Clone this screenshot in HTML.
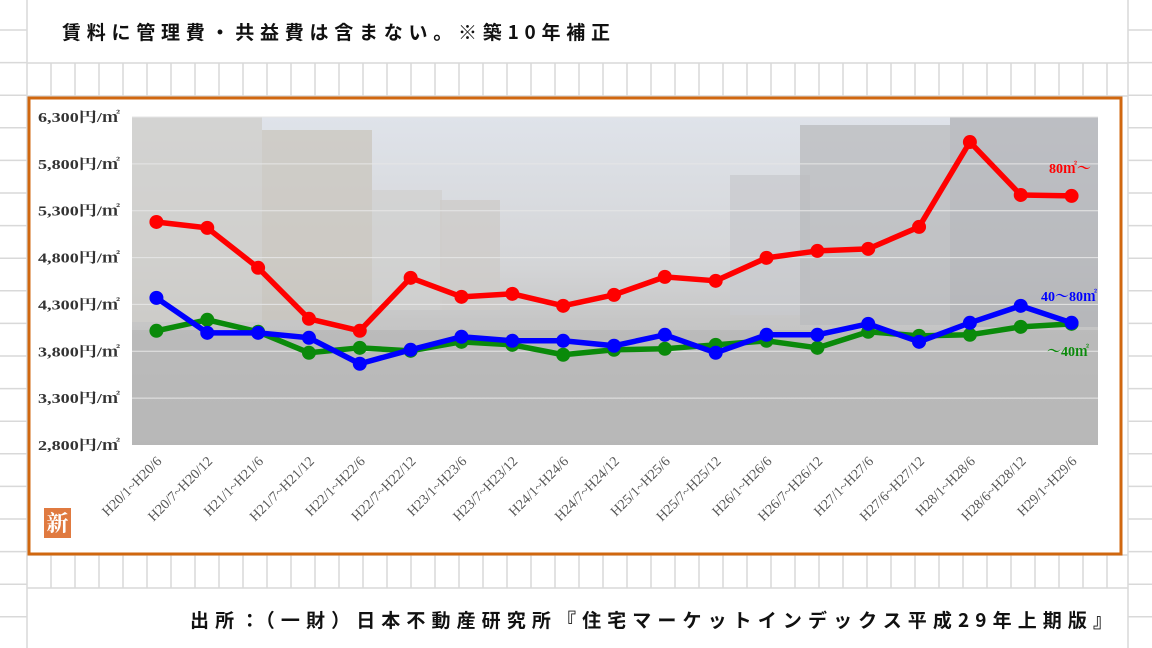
<!DOCTYPE html>
<html><head><meta charset="utf-8">
<style>
html,body{margin:0;padding:0;background:#fff;}
body{width:1152px;height:648px;overflow:hidden;position:relative;font-family:"Liberation Serif","Noto Serif CJK SC","Noto Sans CJK JP",serif;}
svg{position:absolute;left:0;top:0;}
</style></head>
<body>
<svg id="chart" width="1152" height="648" viewBox="0 0 1152 648" xmlns="http://www.w3.org/2000/svg">
<defs>
<linearGradient id="photo" x1="0" y1="0" x2="0" y2="1">
<stop offset="0" stop-color="#dfe3ea"/>
<stop offset="0.45" stop-color="#d4d5d7"/>
<stop offset="0.62" stop-color="#c6c6c6"/>
<stop offset="1" stop-color="#b9b9b9"/>
</linearGradient>
</defs>
<g id="sheet-grid" stroke="#d9d9d9" stroke-width="1.5"></g>
<text x="62" y="39" font-family="'Noto Sans CJK JP',sans-serif" font-size="19" font-weight="bold" textLength="548" lengthAdjust="spacing" fill="#111">賃料に管理費・共益費は含まない。※築10年補正</text>
<rect x="29" y="98" width="1092" height="456" fill="#fff" stroke="#d0670f" stroke-width="3"/>
<g id="plot"></g>
<text x="190" y="627" font-family="'Noto Sans CJK JP',sans-serif" font-size="19" font-weight="bold" textLength="922" lengthAdjust="spacing" fill="#111">出所：（一財）日本不動産研究所『住宅マーケットインデックス平成29年上期版』</text>
</svg>
<script>
const categories=["H20/1~H20/6","H20/7~H20/12","H21/1~H21/6","H21/7~H21/12","H22/1~H22/6","H22/7~H22/12","H23/1~H23/6","H23/7~H23/12","H24/1~H24/6","H24/7~H24/12","H25/1~H25/6","H25/7~H25/12","H26/1~H26/6","H26/7~H26/12","H27/1~H27/6","H27/6~H27/12","H28/1~H28/6","H28/6~H28/12","H29/1~H29/6"];
const large=[5180,5117,4691,4147,4019,4584,4381,4413,4285,4402,4594,4552,4797,4871,4893,5127,6033,5468,5458];
const medium=[4370,3997,3997,3944,3667,3816,3955,3912,3912,3859,3976,3784,3976,3976,4093,3901,4104,4285,4104];
const small=[4019,4136,4008,3784,3837,3805,3901,3869,3763,3816,3827,3869,3912,3837,4008,3965,3976,4061,4093];
const yTicks=[2800,3300,3800,4300,4800,5300,5800,6300];
const yTickLabels=["2,800円/㎡","3,300円/㎡","3,800円/㎡","4,300円/㎡","4,800円/㎡","5,300円/㎡","5,800円/㎡","6,300円/㎡"];
const seriesNames=["80㎡～","40～80㎡","～40㎡"];

const NS="http://www.w3.org/2000/svg";
const PX0=132,PX1=1098,PY0=117,PY1=445,YMIN=2800,YMAX=6300;
const step=(PX1-PX0)/categories.length;
function xs(i){return PX0+step*(i+0.5)-1;}
function ys(v){return PY1-(v-YMIN)/(YMAX-YMIN)*(PY1-PY0);}
function mk(tag,attrs,parent){const e=document.createElementNS(NS,tag);for(const k in attrs)e.setAttribute(k,attrs[k]);parent.appendChild(e);return e;}

const g=document.getElementById('sheet-grid');
for(let y=30;y<648;y+=32.6){
  const l=mk('line',{x1:0,x2:27,y1:y,y2:y},g);
  
  
  const r=mk('line',{x1:1128,x2:1152,y1:y,y2:y},g);
  
  
}
[[27,0,27,648],[1128,0,1128,648],[27,63,1128,63],[27,96,1128,96],[27,555,1128,555],[27,588,1128,588]].forEach(a=>{
  const l=mk('line',{x1:a[0],y1:a[1],x2:a[2],y2:a[3]},g);
  
  
});
for(let x=51;x<1128;x+=24){
  [[63,96],[555,588]].forEach(r=>{
    const l=mk('line',{x1:x,x2:x,y1:r[0],y2:r[1]},g);
    
    
  });
}

const P=document.getElementById('plot');
const bg=mk('rect',{x:PX0,y:PY0,width:PX1-PX0,height:PY1-PY0,fill:'url(#photo)'},P);


const bld=[[132,117,130,205,'#cfcdca'],[262,130,110,190,'#c9c5bd'],[372,190,70,120,'#d0d0cf'],[440,200,60,110,'#cdcbc8'],[730,175,80,140,'#c8cacd'],[800,125,150,200,'#b9bbbe'],[950,117,148,210,'#b0b2b5'],[132,330,966,115,'#b7b7b7']];
bld.forEach(b=>{
  const r=mk('rect',{x:b[0],y:b[1],width:b[2],height:b[3],fill:b[4],opacity:0.75},P);
  
  
});
yTicks.forEach((t,i)=>{
  if(i>0){const l=mk('line',{x1:PX0,x2:PX1,y1:ys(t),y2:ys(t),stroke:'#e6e6e6','stroke-width':1},P);
  
  }
  const tx=mk('text',{x:38,y:ys(t)+5,'font-size':14,'font-weight':'bold',fill:'#333',textLength:82,lengthAdjust:'spacingAndGlyphs'},P);
  tx.textContent=yTickLabels[i];
  
  
});
categories.forEach((c,i)=>{
  const x=xs(i)+6,y=462;
  const tx=mk('text',{x:x,y:y,'font-size':14,fill:'#555','text-anchor':'end',transform:`rotate(-45 ${x} ${y})`},P);
  tx.textContent=c;
  
  
});
function series(vals,color,name){
  const pl=mk('polyline',{points:vals.map((v,i)=>xs(i)+','+ys(v)).join(' '),fill:'none',stroke:color,'stroke-width':5.5,'stroke-linejoin':'round'},P);
  
  
  vals.forEach((v,i)=>{
    const c=mk('circle',{cx:xs(i),cy:ys(v),r:7,fill:color},P);
    
    
  });
}
series(small,'#0a8a0a','small-unit');
series(medium,'#0000ff','medium-unit');
series(large,'#ff0000','large-unit');
[[seriesNames[0],1049,173,'#ff0000'],[seriesNames[1],1041,301,'#0000ff'],[seriesNames[2],1047,356,'#0a8a0a']].forEach(l=>{
  const t=mk('text',{x:l[1],y:l[2],'font-size':14,'font-weight':'bold',fill:l[3]},P);
  t.textContent=l[0];
  
  
});
const lg=mk('rect',{x:44,y:508,width:27,height:30,fill:'#e07a40'},P);


const lt=mk('text',{x:57.5,y:531,'font-size':22,'font-weight':'bold',fill:'#fff','text-anchor':'middle'},P);
lt.textContent='新';


</script>
</body></html>
